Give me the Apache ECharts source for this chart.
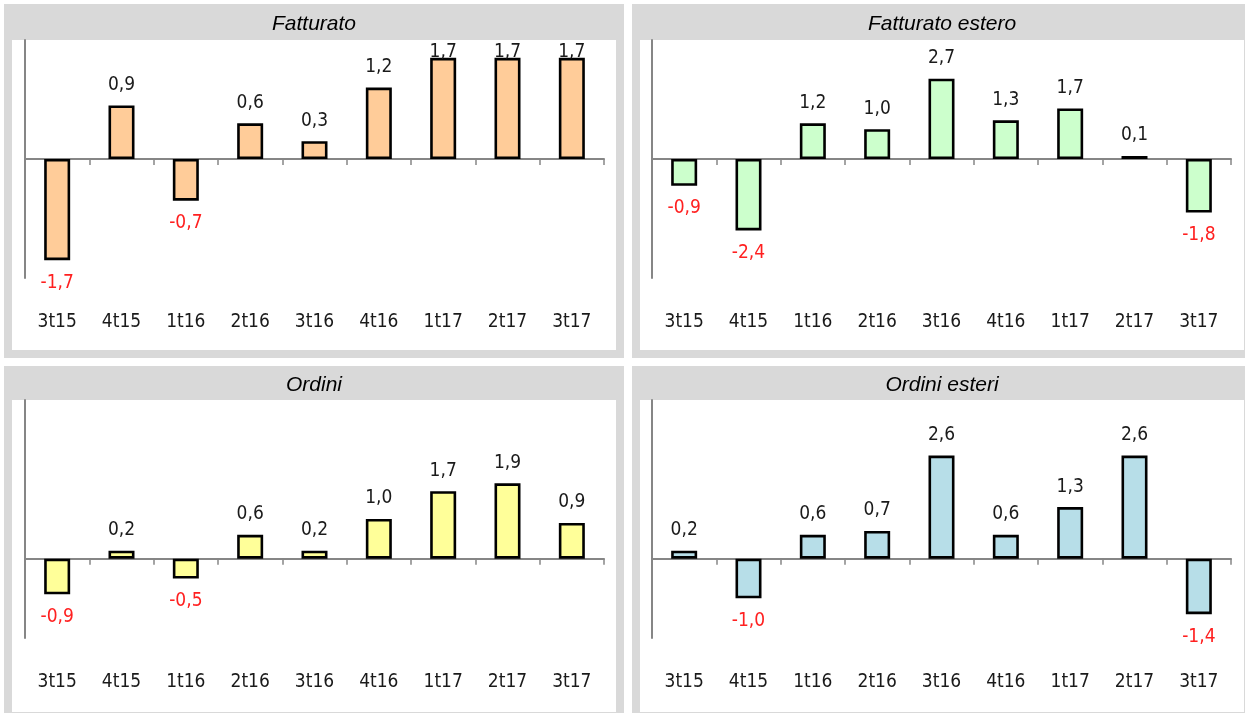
<!DOCTYPE html>
<html>
<head>
<meta charset="utf-8">
<script src="https://cdn.jsdelivr.net/npm/echarts@6/dist/echarts.min.js"></script>
<style>
html,body{margin:0;padding:0;background:#fff;}
#c{width:1245px;height:713px;}
</style>
</head>
<body>
<div id="c"></div>
<script>
const categories = ['3t15','4t15','1t16','2t16','3t16','4t16','1t17','2t17','3t17'];
const titles = ['Fatturato','Fatturato estero','Ordini','Ordini esteri'];
const fatturato = [-1.7, 0.9, -0.7, 0.6, 0.3, 1.2, 1.7, 1.7, 1.7];
const fatturatoEstero = [-0.9, -2.4, 1.2, 1.0, 2.7, 1.3, 1.7, 0.1, -1.8];
const ordini = [-0.9, 0.2, -0.5, 0.6, 0.2, 1.0, 1.7, 1.9, 0.9];
const ordiniEsteri = [0.2, -1.0, 0.6, 0.7, 2.6, 0.6, 1.3, 2.6, -1.4];
const yMin = [-2, -4, -2, -2];
const yMax = [2, 4, 4, 4];
const colors = ['#FFCC99', '#CCFFCC', '#FFFF99', '#B7DEE8'];
const seriesData = [fatturato, fatturatoEstero, ordini, ordiniEsteri];

const NARROW = '"Liberation Sans Narrow","Arial Narrow","DejaVu Sans Condensed",sans-serif';
const FS = 19;
const panels = [
  {x:4, y:4, w:620, h:354, titleH:36, gl:25, gt:40},
  {x:632, y:4, w:620, h:354, titleH:36, gl:652, gt:40},
  {x:4, y:366, w:620, h:354, titleH:34, gl:25, gt:400},
  {x:632, y:366, w:620, h:354, titleH:34, gl:652, gt:400}
];
const GW = 579, GH = 238;

const graphic = [];
const grid = [], xAxis = [], yAxis = [], series = [];
panels.forEach((p, i) => {
  graphic.push({type:'rect', shape:{x:p.x, y:p.y, width:p.w, height:p.h}, style:{fill:'#D9D9D9'}, z:-10, silent:true});
  graphic.push({type:'rect', shape:{x:p.x+8, y:p.y+p.titleH, width:p.w-16, height:p.h-p.titleH-8}, style:{fill:'#FFFFFF'}, z:-9, silent:true});
  graphic.push({type:'text', x:p.x+p.w/2, y:p.y+p.titleH/2+2, style:{text:titles[i], font:'italic 21px "Liberation Sans", Arial, sans-serif', fill:'#000', align:'center', verticalAlign:'middle'}, z:10, silent:true});

  grid.push({left:p.gl, top:p.gt, width:GW, height:GH, containLabel:false});
  yAxis.push({type:'value', gridIndex:i, min:yMin[i], max:yMax[i], interval:1,
    axisLine:{show:true, lineStyle:{color:'#868686', width:2}},
    axisTick:{show:false}, axisLabel:{show:false}, splitLine:{show:false}});
  xAxis.push({type:'category', gridIndex:i, data:categories, position:'bottom',
    axisLine:{show:true, onZero:true, lineStyle:{color:'#868686', width:2}},
    axisTick:{show:true, length:6, lineStyle:{color:'#868686', width:1.5}},
    axisLabel:{show:false}, splitLine:{show:false}});
  xAxis.push({type:'category', gridIndex:i, data:categories, position:'bottom',
    axisLine:{show:false, onZero:false}, axisTick:{show:false},
    axisLabel:{show:true, margin:35, color:'#1a1a1a', fontFamily:NARROW, fontSize:FS}});

  const ppu = GH / (yMax[i] - yMin[i]);
  const data = seriesData[i].map(v => {
    const neg = v < 0;
    let off = 0;
    if (!neg) {
      const barTop = p.gt + (yMax[i] - v) * ppu;
      const center = barTop - 10 - 10;
      const minCenter = p.gt + 13;
      if (center < minCenter) off = minCenter - center;
    }
    return {
      value: v,
      label: {
        show: true,
        position: neg ? 'bottom' : 'top',
        distance: neg ? 13 : 11,
        offset: [0, off],
        color: neg ? '#FF2020' : '#1a1a1a',
        fontFamily: NARROW, fontSize: FS,
        formatter: () => v.toFixed(1).replace('.', ',')
      }
    };
  });
  series.push({type:'bar', xAxisIndex:i*2, yAxisIndex:i, data:data, barWidth:26,
    itemStyle:{color:colors[i], borderColor:'#000', borderWidth:2.6},
    animation:false, silent:true});
});

const chart = echarts.init(document.getElementById('c'), null, {renderer:'canvas'});
chart.setOption({animation:false, graphic:graphic, grid:grid, xAxis:xAxis, yAxis:yAxis, series:series});
</script>
</body>
</html>
